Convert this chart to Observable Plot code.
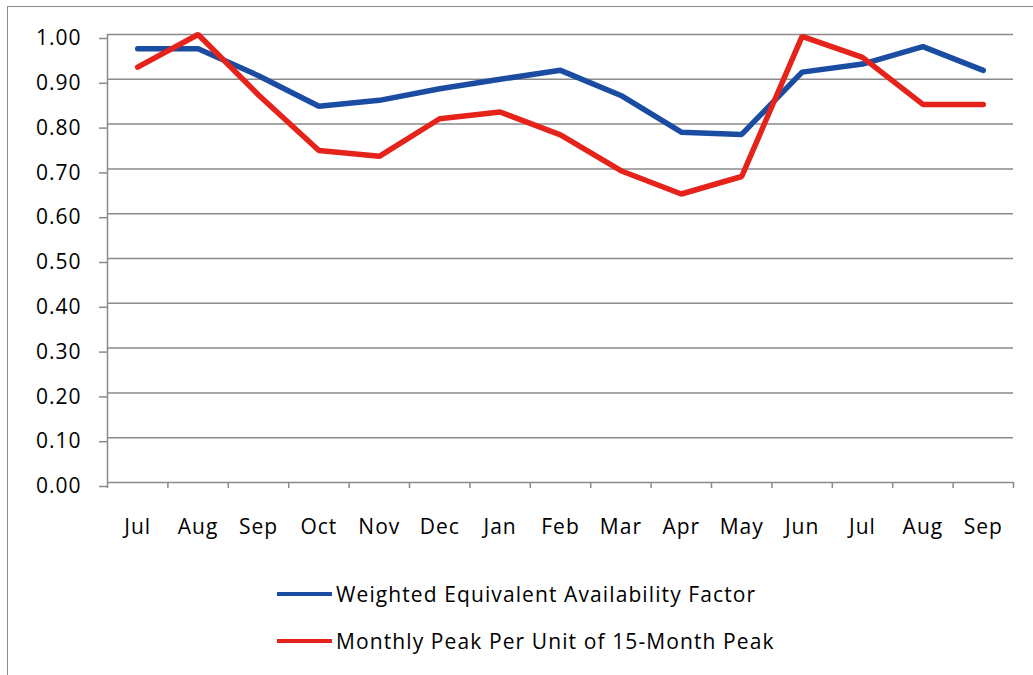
<!DOCTYPE html>
<html>
<head>
<meta charset="utf-8">
<script src="https://cdn.jsdelivr.net/npm/d3@7"></script>
<script src="https://cdn.jsdelivr.net/npm/@observablehq/plot@0.6"></script>
<style>
  html, body { margin: 0; padding: 0; background: #fff; }
  #wrap { position: relative; width: 1033px; height: 675px; overflow: hidden; font-family: "Open Sans", sans-serif; }
  #frame { position: absolute; left: 7px; top: 6px; width: 1100px; height: 800px; border: 1.5px solid #8a8a8a; box-sizing: border-box; }
  #chart { position: absolute; left: 0; top: 0; }
  #chart svg { display: block; }
  #chart svg text { letter-spacing: 1px; }
  .leg { position: absolute; left: 277px; height: 30px; display: flex; align-items: center; font-size: 21px; color: #000; white-space: nowrap; letter-spacing: 1.1px; }
  .leg .sw { width: 55px; height: 4px; margin-right: 4px; }
</style>
</head>
<body>
<div id="wrap">
  <div id="frame"></div>
  <div id="chart"></div>
  <div id="legend"></div>
</div>
<script>
const months = ["Jul","Aug","Sep","Oct","Nov","Dec","Jan","Feb","Mar","Apr","May","Jun","Jul","Aug","Sep"];
const eafValues = [0.968,0.968,0.908,0.840,0.853,0.879,0.900,0.920,0.864,0.782,0.777,0.916,0.934,0.973,0.920];
const peakValues = [0.927,1.000,0.865,0.741,0.728,0.812,0.827,0.776,0.696,0.644,0.683,0.996,0.949,0.844,0.844];
const seriesNames = ["Weighted Equivalent Availability Factor","Monthly Peak Per Unit of 15-Month Peak"];
const seriesColors = ["#1a4da1","#e5231b"];
const yTicks = [0,0.1,0.2,0.3,0.4,0.5,0.6,0.7,0.8,0.9,1.0];

const eaf = months.map((m,i) => ({i: i + 0.5, v: eafValues[i]}));
const peak = months.map((m,i) => ({i: i + 0.5, v: peakValues[i]}));
const centers = months.map((m,i) => i + 0.5);
const bounds = d3.range(0, months.length + 1);
const gray = "#8a8a8a";

const plot = Plot.plot({
  width: 1033,
  height: 560,
  marginLeft: 107,
  marginRight: 20,
  marginTop: 34,
  marginBottom: 78,
  style: {fontSize: "21px", fontFamily: "'Open Sans', sans-serif", color: "#000", background: "transparent"},
  x: {type: "linear", domain: [0, months.length]},
  y: {domain: [0, 1]},
  marks: [
    Plot.ruleY(yTicks, {stroke: gray, strokeWidth: 1.5, strokeOpacity: 1}),
    Plot.ruleX([0], {stroke: gray, strokeWidth: 1.5}),
    Plot.axisY({ticks: yTicks, tickFormat: d => d.toFixed(2), tickSize: 8, tickPadding: 18, dy: 4, stroke: gray, strokeWidth: 1.5, strokeOpacity: 1, label: null, fill: "#000"}),
    Plot.axisX({ticks: bounds, tickSize: 6, tickFormat: () => "", stroke: gray, strokeWidth: 1.5, strokeOpacity: 1, label: null}),
    Plot.axisX({ticks: centers, tickSize: 0, tickPadding: 37, tickFormat: d => months[Math.floor(d)], label: null, fill: "#000"}),
    Plot.line(eaf, {x: "i", y: "v", stroke: seriesColors[0], strokeWidth: 5.5, strokeLinecap: "round", strokeLinejoin: "miter"}),
    Plot.line(peak, {x: "i", y: "v", stroke: seriesColors[1], strokeWidth: 5.5, strokeLinecap: "round", strokeLinejoin: "miter"})
  ]
});
document.getElementById("chart").appendChild(plot);

const legend = document.getElementById("legend");
const legendTops = [579, 626];
seriesNames.forEach((name, k) => {
  const row = document.createElement("div");
  row.className = "leg";
  row.style.top = legendTops[k] + "px";
  row.innerHTML = `<span class="sw" style="background:${seriesColors[k]}"></span><span>${name}</span>`;
  legend.appendChild(row);
});
</script>
</body>
</html>
